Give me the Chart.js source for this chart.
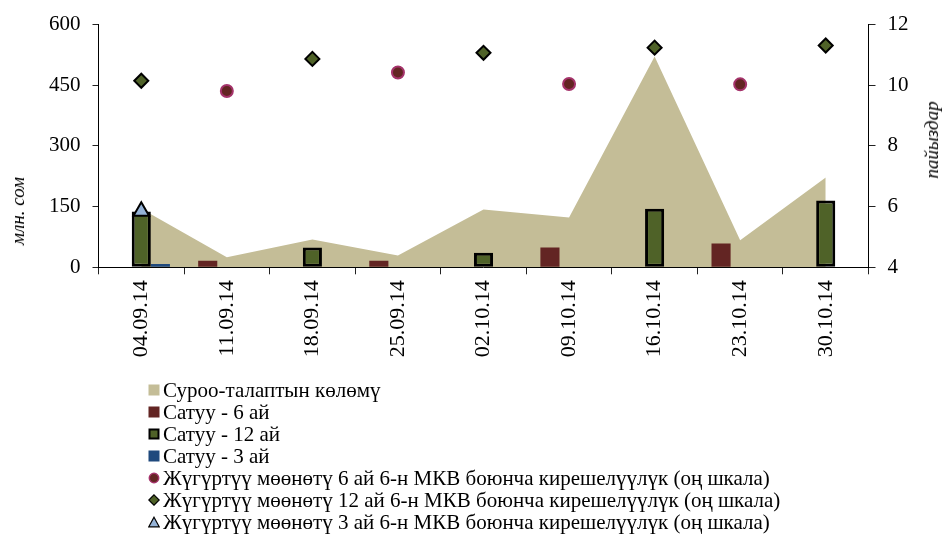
<!DOCTYPE html>
<html>
<head>
<meta charset="utf-8">
<script src="https://cdn.jsdelivr.net/npm/chart.js@4.4.1/dist/chart.umd.min.js"></script>
<style>
    html, body { margin: 0; padding: 0; background: #fff; }
    #wrap { position: relative; width: 942px; height: 538px; font-family: "Liberation Serif", "Times New Roman", serif; color: #000; }
    #chart { position: absolute; left: 0; top: 0; }
    .axis-title { position: absolute; font-style: italic; font-size: 19px; white-space: nowrap; transform: translate(-50%, -50%) rotate(-90deg); }
    #legend { position: absolute; left: 148px; top: 379px; font-size: 21px; }
    #legend .row { display: flex; align-items: center; height: 22px; white-space: nowrap; }
    #legend svg { margin-right: 3px; flex: none; }
</style>
</head>
<body>
<div id="wrap">
    <canvas id="chart" width="942" height="538"></canvas>
    <div class="axis-title" style="left:18px; top:211px;">млн. сом</div>
    <div class="axis-title" style="left:932px; top:140px;">пайыздар</div>
    <div id="legend"></div>
</div>
<script>
const labels = ['04.09.14', '11.09.14', '18.09.14', '25.09.14', '02.10.14', '09.10.14', '16.10.14', '23.10.14', '30.10.14'];
const demand = [145, 25, 69, 29, 143, 123, 521, 67, 222];
const sale6 = [null, 16, null, 16, null, 49, null, 59, null];
const sale12 = [138, null, 49, null, 36, null, 145, null, 165];
const sale3 = [8, null, null, null, null, null, null, null, null];
const yield6 = [null, 9.81, null, 10.42, null, 10.04, null, 10.03, null];
const yield12 = [10.15, null, 10.87, null, 11.07, null, 11.24, null, 11.31];
const yield3 = [5.85, null, null, null, null, null, null, null, null];
const leftTicks = [0, 150, 300, 450, 600];
const rightTicks = [4, 6, 8, 10, 12];

const FONT = '"Liberation Serif", "Times New Roman", serif';

function marker(ds) {
    const fill = ds.pointBackgroundColor || ds.backgroundColor;
    const stroke = ds.pointBorderColor || ds.borderColor || fill;
    const style = ds.pointStyle || 'rect';
    if (style === 'circle') {
        return '<svg width="12" height="12"><circle cx="6" cy="6" r="4.7" fill="' + fill + '" stroke="' + stroke + '" stroke-width="1.5"/></svg>';
    }
    if (style === 'rectRot') {
        return '<svg width="12" height="12"><polygon points="6,0.8 11.2,6 6,11.2 0.8,6" fill="' + fill + '" stroke="' + stroke + '" stroke-width="1.2"/></svg>';
    }
    if (style === 'triangle') {
        return '<svg width="12" height="12"><polygon points="6,1.2 11.2,10.8 0.8,10.8" fill="' + fill + '" stroke="' + stroke + '" stroke-width="1.2"/></svg>';
    }
    const bw = ds.borderWidth ? 2 : 0;
    return '<svg width="12" height="12"><rect x="' + (0.5 + bw / 2) + '" y="' + (0.5 + bw / 2) + '" width="' + (11 - bw) + '" height="' + (11 - bw) + '" fill="' + fill + '"' +
        (bw ? ' stroke="#000" stroke-width="' + bw + '"' : '') + '/></svg>';
}

document.addEventListener('DOMContentLoaded', function () {
    const ctx = document.getElementById('chart').getContext('2d');

    const chart = new Chart(ctx, {
        type: 'bar',
        data: {
            labels: labels,
            datasets: [{
                type: 'line',
                label: 'Суроо-талаптын көлөмү',
                data: demand,
                backgroundColor: '#C4BD97',
                borderWidth: 0,
                pointRadius: 0,
                fill: 'origin',
                tension: 0,
                yAxisID: 'y',
                order: 3
            }, {
                label: 'Сатуу - 6 ай',
                data: sale6,
                backgroundColor: '#632523',
                yAxisID: 'y',
                order: 2
            }, {
                label: 'Сатуу - 12 ай',
                data: sale12,
                backgroundColor: '#4F6228',
                borderColor: '#000',
                borderWidth: 3,
                borderSkipped: false,
                yAxisID: 'y',
                order: 2
            }, {
                label: 'Сатуу - 3 ай',
                data: sale3,
                backgroundColor: '#1F497D',
                yAxisID: 'y',
                order: 2
            }, {
                type: 'line',
                label: 'Жүгүртүү мөөнөтү 6 ай 6-н МКВ боюнча кирешелүүлүк (оң шкала)',
                data: yield6,
                showLine: false,
                pointStyle: 'circle',
                pointRadius: 6,
                pointBackgroundColor: '#632523',
                pointBorderColor: '#A5336B',
                pointBorderWidth: 2,
                yAxisID: 'y2',
                order: 1
            }, {
                type: 'line',
                label: 'Жүгүртүү мөөнөтү 12 ай 6-н МКВ боюнча кирешелүүлүк (оң шкала)',
                data: yield12,
                showLine: false,
                pointStyle: 'rectRot',
                pointRadius: 7,
                pointBackgroundColor: '#4F6228',
                pointBorderColor: '#000',
                pointBorderWidth: 2,
                yAxisID: 'y2',
                order: 1
            }, {
                type: 'line',
                label: 'Жүгүртүү мөөнөтү 3 ай 6-н МКВ боюнча кирешелүүлүк (оң шкала)',
                data: yield3,
                showLine: false,
                pointStyle: 'triangle',
                pointRadius: 9,
                pointBackgroundColor: '#95B3D7',
                pointBorderColor: '#000',
                pointBorderWidth: 2,
                yAxisID: 'y2',
                order: 1
            }]
        },
        options: {
            responsive: false,
            animation: false,
            categoryPercentage: 0.67,
            barPercentage: 1.0,
            layout: { padding: { top: 22.7, left: 0, right: 0, bottom: 0 } },
            plugins: {
                legend: { display: false },
                tooltip: { enabled: false }
            },
            scales: {
                x: {
                    grid: { display: true, drawOnChartArea: false, tickLength: 7, color: '#222', offset: true },
                    border: { display: true, color: '#000', width: 1 },
                    ticks: { color: '#000', font: { family: FONT, size: 22 }, maxRotation: 90, minRotation: 90, padding: 6 },
                    afterFit: function (s) { s.height = 538 - 267.3; }
                },
                y: {
                    position: 'left',
                    min: leftTicks[0],
                    max: leftTicks[leftTicks.length - 1],
                    afterBuildTicks: function (s) { s.ticks = leftTicks.map(function (v) { return { value: v }; }); },
                    grid: { display: true, drawOnChartArea: false, tickLength: 6, color: '#222' },
                    border: { display: true, color: '#000', width: 1 },
                    ticks: { color: '#000', font: { family: FONT, size: 21 }, padding: 12 },
                    afterFit: function (s) { s.width = 98.5; }
                },
                y2: {
                    position: 'right',
                    min: rightTicks[0],
                    max: rightTicks[rightTicks.length - 1],
                    afterBuildTicks: function (s) { s.ticks = rightTicks.map(function (v) { return { value: v }; }); },
                    grid: { display: true, drawOnChartArea: false, tickLength: 7, color: '#222' },
                    border: { display: true, color: '#000', width: 1 },
                    ticks: { color: '#000', font: { family: FONT, size: 21 }, padding: 12 },
                    afterFit: function (s) { s.width = 942 - 868.5; }
                }
            }
        }
    });

    const legend = document.getElementById('legend');
    chart.data.datasets.forEach(function (ds) {
        const row = document.createElement('div');
        row.className = 'row';
        row.innerHTML = marker(ds) + '<span>' + ds.label + '</span>';
        legend.appendChild(row);
    });
});
</script>
</body>
</html>
